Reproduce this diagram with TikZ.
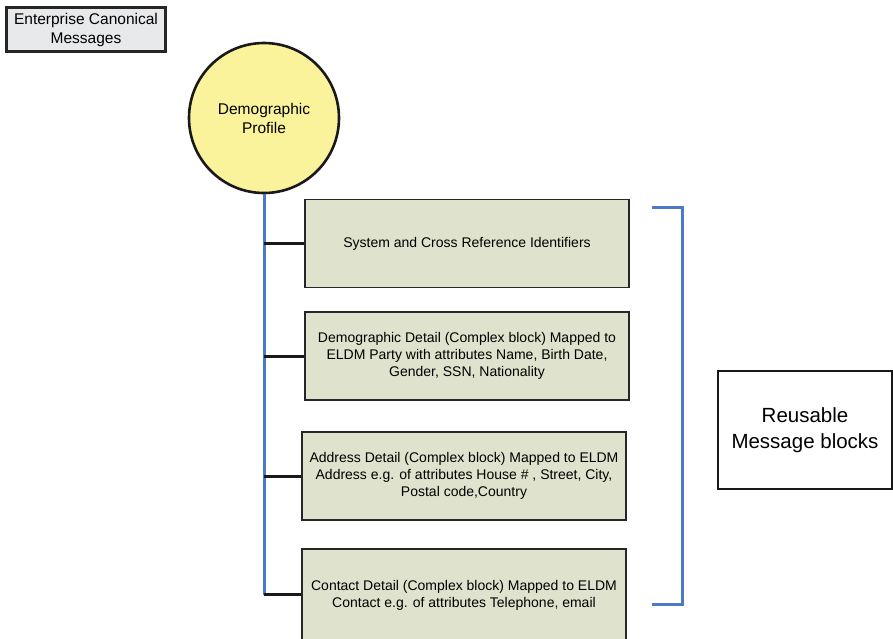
\documentclass[tikz,border=0pt]{standalone}
\usepackage{fontspec}
\setmainfont{Liberation Sans}
\usetikzlibrary{positioning}
\definecolor{blockfill}{HTML}{DFE2CC}
\definecolor{profilefill}{HTML}{FBF39B}
\definecolor{legendfill}{HTML}{E8E9EB}
\definecolor{spineblue}{HTML}{4A7BC4}

\begin{document}
\begin{tikzpicture}[
				x=1pt, y=-1pt,
				block/.style={draw=black!85, line width=1.8pt, fill=blockfill, align=center, inner sep=0pt, minimum width=324pt, minimum height=88pt, font=\fontsize{14}{17}\selectfont},
				profile/.style={draw=black!90, circle, line width=2.6pt, fill=profilefill, align=center, minimum size=150pt, font=\fontsize{15.5}{19}\selectfont},
				legend/.style={draw=black!85, line width=2.2pt, fill=legendfill, align=center, inner sep=0pt, minimum width=159pt, minimum height=44pt, font=\fontsize{15.5}{19}\selectfont},
				note/.style={draw=black!90, line width=2.2pt, fill=white, align=center, inner sep=0pt, minimum width=174pt, minimum height=118pt, font=\fontsize{20.5}{26}\selectfont},
				spine/.style={draw=spineblue, line width=3pt},
				branch/.style={draw=black!90, line width=3pt},
			]
			\useasboundingbox (0,0) rectangle (893,638);

			% Title and profile
			\node[legend] (ecm) at (86,29.5) {Enterprise Canonical\\Messages};
			\node[profile] (prof) at (264,118) {Demographic\\Profile};

			% Blocks
			\node[block] (sys) at (467,243.5) {System and Cross Reference Identifiers};
			\node[block, below=23pt of sys] (demo) {%
				Demographic Detail (Complex block) Mapped to\\
				ELDM Party with attributes Name, Birth Date,\\
				Gender, SSN, Nationality};
			\node[block, below=30pt of demo, xshift=-3pt] (addr) {%
				Address Detail (Complex block) Mapped to ELDM\\
				Address e.g. of attributes House \# , Street, City,\\
				Postal code,Country};
			\node[block, below=27pt of addr, minimum height=92pt] (cont) {%
				Contact Detail (Complex block) Mapped to ELDM\\
				Contact e.g. of attributes Telephone, email};

			% Reusable note
			\node[note] (reuse) at (805,430) {Reusable\\Message blocks};

			% Profile -> blocks
			\draw[spine] (prof.south) -- (prof.south |- cont.west);
			\foreach \b in {sys, demo, addr, cont}
				\draw[branch] (prof.south |- \b.west) -- (\b.west);

			% Bracket
			\coordinate (brtop) at (652,207);
			\coordinate (brbot) at (652,604);
			\draw[spine] (brtop) -- ++(30,0) |- (brbot);
		\end{tikzpicture}
\end{document}
